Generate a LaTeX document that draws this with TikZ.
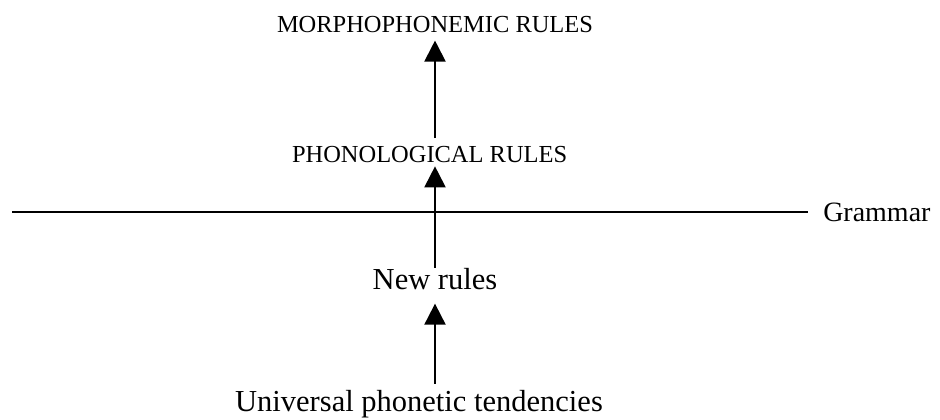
\documentclass[tikz,border=0pt]{standalone}
\usepackage{fontspec}
\setmainfont{Liberation Serif}
\usepackage{tikz}
\usetikzlibrary{arrows.meta,positioning,calc}

\tikzset{
  bigtxt/.style={inner sep=0pt, font=\fontsize{21.7}{26}\selectfont},
  smalltxt/.style={inner sep=0pt, font=\fontsize{17.4}{21}\selectfont},
  uparrow/.style={line width=1.4pt, -{Triangle[width=15pt,length=15pt]}},
}

\begin{document}
\begin{tikzpicture}
\useasboundingbox (0,0) rectangle (23.5,10.475);

% levels
\node[smalltxt, anchor=base] (morph) at (10.875,9.65) {MORPHOPHONEMIC RULES};
\node[smalltxt, anchor=base] (phon) at (10.74,6.4) {PHONOLOGICAL RULES};
\node[bigtxt, anchor=base] (newrules) at (10.875,3.25) {New rules};
\node[bigtxt, anchor=base] (universal) at (10.475,0.2) {Universal phonetic tendencies};

% grammar line
\node[inner sep=0pt, anchor=base west, font=\fontsize{19.9}{24}\selectfont] (grammar) at (20.575,4.925) {Grammar};
\coordinate (lineleft) at (0.3,5.175);
\draw[line width=1.4pt, shorten >=10.5pt] (lineleft) -- (lineleft -| grammar.west);

% arrows
\draw[uparrow, shorten <=4pt, shorten >=10pt] (universal.north -| newrules) -- (newrules.south);
\draw[uparrow, shorten >=2pt] (newrules.north) -- (phon.south -| newrules);
\draw[uparrow, shorten <=6pt, shorten >=5pt] (phon.north -| morph) -- (morph.south);
\end{tikzpicture}
\end{document}
